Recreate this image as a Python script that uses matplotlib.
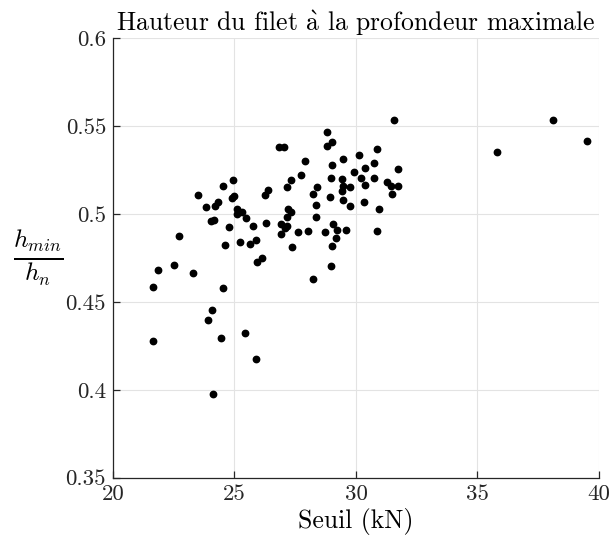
import matplotlib
matplotlib.use("Agg")
import matplotlib.pyplot as plt

plt.rcParams["font.family"] = ["cmr10", "DejaVu Serif"]
plt.rcParams["mathtext.fontset"] = "cm"
plt.rcParams["axes.formatter.use_mathtext"] = True

# Threshold force (kN) and normalised net height at maximum depth
seuil = [21.66, 21.66, 21.86, 22.51, 22.73, 23.30, 23.49, 23.83, 23.92, 24.07,
         24.12, 24.02, 24.17, 24.19, 24.31, 24.51, 24.43, 24.54, 24.60, 24.79,
         24.88, 24.99, 24.95, 25.10, 25.10, 25.21, 25.31, 25.43, 25.49, 25.64,
         25.75, 25.87, 25.91, 25.87, 26.12, 26.24, 26.38, 26.28, 26.83, 27.04,
         26.93, 26.90, 27.15, 27.09, 27.15, 27.17, 27.21, 27.33, 27.33, 27.37,
         27.63, 27.72, 27.90, 28.02, 28.22, 28.24, 28.34, 28.37, 28.38, 28.71,
         28.82, 29.00, 28.82, 29.02, 28.96, 28.94, 29.01, 28.96, 29.07, 29.21,
         29.18, 29.41, 29.45, 29.41, 29.45, 29.48, 29.60, 29.74, 29.74, 29.93,
         30.11, 30.22, 30.36, 30.37, 30.34, 30.73, 30.75, 30.85, 30.87, 30.96,
         31.29, 31.43, 31.49, 31.56, 31.72, 31.73, 35.79, 38.12, 39.49]
h_ratio = [0.4280, 0.4586, 0.4681, 0.4708, 0.4873, 0.4666, 0.5106, 0.5037, 0.4398, 0.4452,
           0.3974, 0.4960, 0.4967, 0.5045, 0.5069, 0.5160, 0.4293, 0.4580, 0.4823, 0.4924,
           0.5092, 0.5103, 0.5193, 0.5029, 0.5001, 0.4840, 0.5009, 0.4324, 0.4977, 0.4829,
           0.4933, 0.4850, 0.4725, 0.4177, 0.4751, 0.5109, 0.5137, 0.4946, 0.5382, 0.5380,
           0.4944, 0.4884, 0.4933, 0.4918, 0.5153, 0.4981, 0.5026, 0.5012, 0.5193, 0.4812,
           0.4897, 0.5221, 0.5301, 0.4904, 0.4630, 0.5111, 0.5052, 0.4984, 0.5155, 0.4897,
           0.5464, 0.5410, 0.5386, 0.5280, 0.5206, 0.5096, 0.4816, 0.4702, 0.4941, 0.4910,
           0.4861, 0.5200, 0.5159, 0.5132, 0.5079, 0.5312, 0.4910, 0.5155, 0.5043, 0.5240,
           0.5333, 0.5204, 0.5162, 0.5263, 0.5066, 0.5202, 0.5292, 0.5371, 0.4901, 0.5029,
           0.5180, 0.5160, 0.5113, 0.5535, 0.5159, 0.5255, 0.5354, 0.5535, 0.5416]

x_ticks = [20, 25, 30, 35, 40]
y_ticks = [0.35, 0.4, 0.45, 0.5, 0.55, 0.6]
y_tick_labels = ["0.35", "0.4", "0.45", "0.5", "0.55", "0.6"]

fig = plt.figure(figsize=(6.14, 5.45), dpi=100)
ax = fig.add_axes([0.184, 0.1235, 0.7915, 0.8065])

ax.plot(seuil, h_ratio, linestyle="none", marker="o", markersize=4.6,
        color="black", zorder=3, clip_on=False)

ax.set_xlim(20, 40)
ax.set_ylim(0.35, 0.6)
ax.set_xticks(x_ticks)
ax.set_xticklabels([str(t) for t in x_ticks])
ax.set_yticks(y_ticks)
ax.set_yticklabels(y_tick_labels)

ax.grid(True, color="#e3e3e3", linewidth=0.8)
ax.set_axisbelow(True)
for side in ("top", "right"):
    ax.spines[side].set_visible(False)
for side in ("left", "bottom"):
    ax.spines[side].set_color("#262626")
    ax.spines[side].set_linewidth(0.9)

ax.tick_params(direction="in", length=5, width=0.9, color="#262626",
               labelsize=16.5, labelcolor="#262626", pad=5)

ax.set_title("Hauteur du filet $\\mathrm{\\grave{a}}$ la profondeur maximale",
             fontsize=18.5, pad=5)
ax.set_xlabel("Seuil (kN)", fontsize=18.5, labelpad=3)
ax.set_ylabel(r"$\frac{h_{min}}{h_n}$", fontsize=26, rotation=0, labelpad=20,
              va="center")

fig.savefig("out.png", dpi=100)
